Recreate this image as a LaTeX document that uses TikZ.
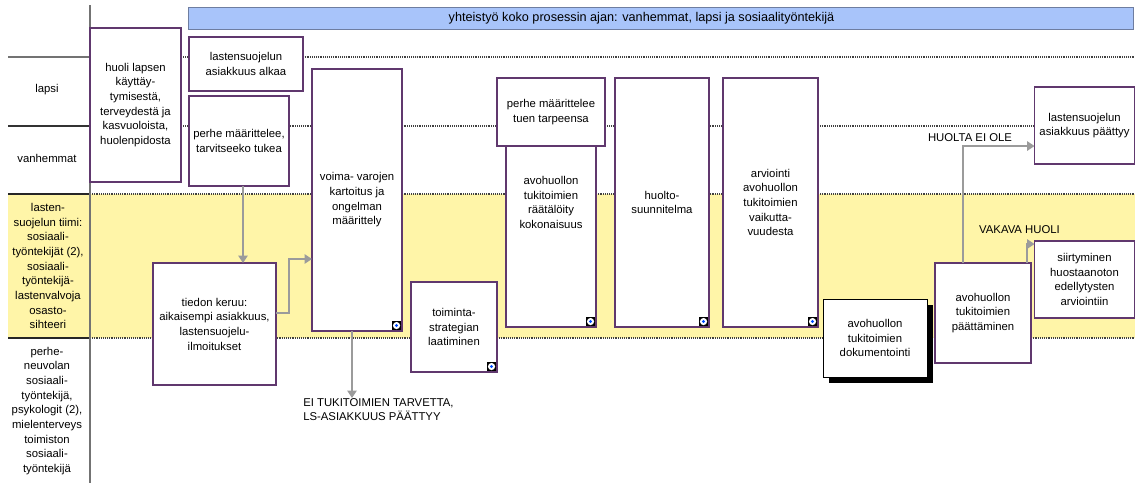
\documentclass[tikz,border=0pt]{standalone}
\usepackage{fontspec}
\setmainfont{Liberation Sans}
\usepackage{tikz}
\usetikzlibrary{arrows.meta}

\definecolor{laneyellow}{RGB}{255,245,168}
\definecolor{barblue}{RGB}{168,196,250}
\definecolor{barline}{RGB}{110,125,160}
\definecolor{boxpurple}{RGB}{96,56,110}
\definecolor{arrowgray}{RGB}{155,155,155}

% small info sign in the lower right corner of a box
\newcommand{\infoicon}[1]{%
	\fill[black] ([xshift=-7.5pt,yshift=0.7pt]#1.south east) rectangle ([xshift=-0.7pt,yshift=7.5pt]#1.south east);
	\fill[white] ([xshift=-4.1pt,yshift=4.1pt]#1.south east) circle (2.7pt);
	\fill[blue!70!cyan] ([xshift=-4.1pt,yshift=4.1pt]#1.south east) circle (1.2pt);
}

\begin{document}
\begin{tikzpicture}[
	x=0.75pt, y=-0.75pt,
	font=\fontsize{8.5}{11}\selectfont,
	MyBox/.style={draw=boxpurple, line width=0.8pt, fill=white, align=center,
		inner sep=2pt, outer sep=0pt},
	MyLane/.style={align=center},
	MyDots/.style={black!75, line width=0.9pt, dash pattern=on 0.7pt off 0.7pt},
	MyArrow/.style={arrowgray, line width=1pt, -{Triangle[length=5.5pt, width=7pt]}},
	MyLabel/.style={align=left, inner sep=0pt},
	]
	\useasboundingbox (0,0) rectangle (1135,483);
	
	% lanes
	\fill[laneyellow] (8,194) rectangle (1135,338);
	\foreach \y in {57,126,194,338}
	\draw[MyDots] (90,\y) -- (1135,\y);
	\draw[black!55, line width=1pt] (8,57) -- (90,57);
	\draw[black!80, line width=1pt] (8,126) -- (90,126);
	\draw[black!85, line width=1.5pt] (8,194) -- (90,194);
	\draw[black!85, line width=1.5pt] (8,338) -- (90,338);
	\draw[black!55, line width=1.2pt] (90,5) -- (90,483);
	
	\node[MyLane] (lapsi) at (47,90) {lapsi};
	\node[MyLane] (vanhemmat) at (47,158) {vanhemmat};
	\node[MyLane] (tiimi) at (48,266) {lasten-\\suojelun tiimi:\\sosiaali-\\työntekijät (2),\\sosiaali-\\työntekijä-\\lastenvalvoja\\osasto-\\sihteeri};
	\node[MyLane] (neuvola) at (47,411) {perhe-\\neuvolan\\sosiaali-\\työntekijä,\\psykologit (2),\\mielenterveys\\toimiston\\sosiaali-\\työntekijä};
	
	\node[draw=barline, fill=barblue, minimum width=708.75pt, minimum height=16.5pt] (bar) at (660.5,18) {};
	\node[font=\fontsize{9.5}{10}\selectfont] (bartext) at (641.5,18)
	{yhteistyö koko prosessin ajan: vanhemmat, lapsi ja sosiaalityöntekijä};
	
	% process boxes
	\node[MyBox, minimum width=68.25pt, minimum height=115.5pt] (huoli) at (135.5,105)
	{huoli lapsen\\käyttäy-\\tymisestä,\\terveydestä ja\\kasvuoloista,\\huolenpidosta};
	\node[MyBox, minimum width=85.5pt, minimum height=40.5pt] (alkaa) at (246,64)
	{lastensuojelun\\asiakkuus alkaa};
	\node[MyBox, minimum width=75pt, minimum height=67.5pt] (tarve) at (239,141)
	{perhe määrittelee,\\tarvitseeko tukea};
	\node[MyBox, minimum width=92.25pt, minimum height=91.5pt] (tieto) at (214.5,324)
	{tiedon keruu:\\aikaisempi asiakkuus,\\lastensuojelu-\\ilmoitukset};
	\node[MyBox, minimum width=67.5pt, minimum height=196.5pt] (voima) at (357,200)
	{voima- varojen\\kartoitus ja\\ongelman\\määrittely};
	\node[MyBox, minimum width=64.5pt, minimum height=67.5pt] (strategia) at (454,327)
	{toiminta-\\strategian\\laatiminen};
	\node[MyBox, minimum width=67.5pt, minimum height=186.75pt] (kokonaisuus) at (551,202.5)
	{avohuollon\\tukitoimien\\räätälöity\\kokonaisuus};
	\node[MyBox, minimum width=81pt, minimum height=51pt] (tuki) at (551,112)
	{perhe määrittelee\\tuen tarpeensa};
	\node[MyBox, minimum width=70.5pt, minimum height=186.75pt] (suunnitelma) at (662,202.5)
	{huolto-\\suunnitelma};
	\node[MyBox, minimum width=71.25pt, minimum height=186.75pt] (arviointi) at (770.5,202.5)
	{arviointi\\avohuollon\\tukitoimien\\vaikutta-\\vuudesta};
	% black shadow under the documentation box
	\fill[black] (829,305) rectangle (933,383);
	\node[MyBox, draw=black, line width=0.6pt, minimum width=78pt, minimum height=58.5pt] (dokumentointi) at (875,338)
	{avohuollon\\tukitoimien\\dokumentointi};
	\node[MyBox, minimum width=72pt, minimum height=75pt] (paattaminen) at (983,313)
	{avohuollon\\tukitoimien\\päättäminen};
	\node[MyBox, minimum width=75pt, minimum height=57.75pt] (paattyy) at (1084.5,125.5)
	{lastensuojelun\\asiakkuus päättyy};
	\node[MyBox, minimum width=75pt, minimum height=57.75pt] (huostaanotto) at (1084.5,279.5)
	{siirtyminen\\huostaanoton\\edellytysten\\arviointiin};
	
	\foreach \n in {voima,strategia,kokonaisuus,suunnitelma,arviointi}
	{\infoicon{\n}}
	
	% end texts
	\node[MyLabel, anchor=north west] (ei) at (303,398)
	{EI TUKITOIMIEN TARVETTA,\\LS-ASIAKKUUS PÄÄTTYY};
	\node[MyLabel] (eihuolta) at (970,138) {HUOLTA EI OLE};
	\node[MyLabel] (vakava) at (1019.5,230) {VAKAVA HUOLI};
	
	% connectors
	\draw[MyArrow] ([xshift=3pt]tarve.south) -- ([xshift=3pt]tarve.south |- tieto.north);
	\draw[MyArrow] ([yshift=8.25pt]tieto.east) -- ++(13,0) |- ([yshift=-44.25pt]voima.west);
	\draw[MyArrow] ([xshift=-3.75pt]voima.south) -- ([xshift=-3.75pt]voima.south |- ei.north);
	\draw[MyArrow] ([xshift=-15pt]paattaminen.north) |- ([yshift=-15.4pt]paattyy.west);
	\draw[MyArrow] ([xshift=33pt]paattaminen.north) |- ([yshift=26.6pt]huostaanotto.west);
\end{tikzpicture}
\end{document}
